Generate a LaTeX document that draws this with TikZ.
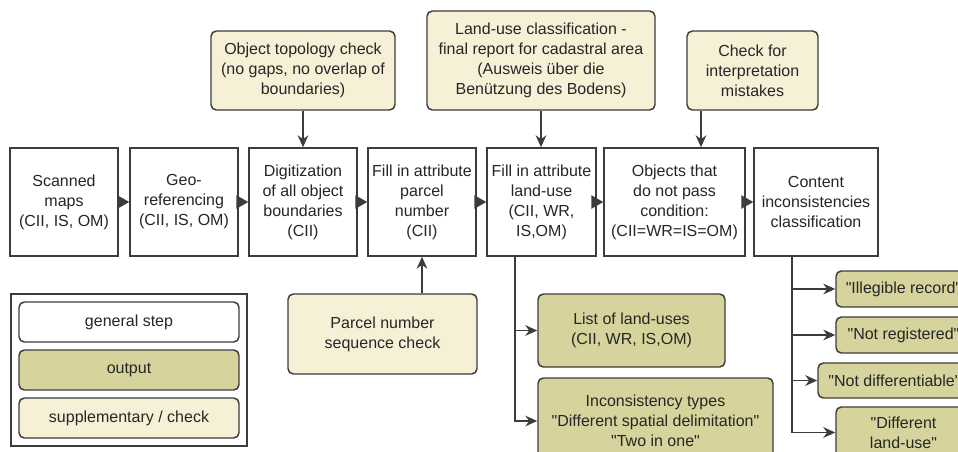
\documentclass[tikz,border=0pt]{standalone}
\usepackage{fontspec}
\setmainfont{Liberation Sans}[Ligatures = TeXOff]
\usetikzlibrary{arrows.meta}
\definecolor{suppcolor}{HTML}{F6F0D6}
\definecolor{outcolor}{HTML}{D6D49C}
\definecolor{linecolor}{HTML}{3C3C3C}

\begin{document}
\begin{tikzpicture}[x = 0.75pt, y = -0.75pt,
		every node/.style = {font = \fontsize{12}{15}\selectfont, text = black!85, align = center, inner sep = 0pt},
		boxsize/.style 2 args = {minimum width = #1*0.75pt, minimum height = #2*0.75pt},
		stepbox/.style = {draw = linecolor, line width = 1.1pt, fill = white},
		outbox/.style = {draw = linecolor, line width = 1.1pt, rounded corners = 4pt, fill = outcolor},
		suppbox/.style = {draw = linecolor, line width = 1.1pt, rounded corners = 4pt, fill = suppcolor},
		flow/.style = {draw = linecolor, line width = 1.1pt, -{Triangle[length = 9pt, width = 10pt]}},
		feed/.style = {draw = linecolor, line width = 1.1pt, -{Stealth[length = 9pt, width = 8pt]}}]
					\useasboundingbox (0,0) rectangle (958,451);
					\clip (0,0) rectangle (958,451);

					\begin{scope}
						\node [stepbox, boxsize = {108}{108}] (scan) at (64,202) {Scanned\\maps\\(CII, IS, OM)};
						\node [stepbox, boxsize = {108}{108}] (georef) at (184,202) {Geo-\\referencing\\(CII, IS, OM)};
						\node [stepbox, boxsize = {108}{108}] (digit) at (303,202) {Digitization\\of all object\\boundaries\\(CII)};
						\node [stepbox, boxsize = {108}{108}] (parcel) at (422,202) {Fill in attribute\\parcel\\number\\(CII)};
						\node [stepbox, boxsize = {109}{108}] (landuse) at (541.5,202) {Fill in attribute\\land-use\\(CII, WR,\\IS,OM)};
						\node [stepbox, boxsize = {141}{108}] (objects) at (674.5,202) {Objects that\\do not pass\\condition:\\(CII=WR=IS=OM)};
						\node [stepbox, boxsize = {124}{108}] (content) at (816,202) {Content\\inconsistencies\\classification};
					\end{scope}

					\begin{scope}
						\node [suppbox, boxsize = {184}{79}] (topo) at (303,70.5) {Object topology check\\(no gaps, no overlap of\\boundaries)};
						\node [suppbox, boxsize = {228}{99}] (report) at (541,60.5) {Land-use classification -\\final report for cadastral area\\(Ausweis über die\\Benützung des Bodens)};
						\node [suppbox, boxsize = {131}{79}] (mistakes) at (752.5,70.5) {Check for\\interpretation\\mistakes};
						\node [suppbox, boxsize = {189}{80}] (seqcheck) at (382.5,334) {Parcel number\\sequence check};
					\end{scope}

					\begin{scope}
						\node [draw = linecolor, line width = 1.1pt, boxsize = {236}{152}] (legend) at (129,370) {};
						\node [stepbox, rounded corners = 4pt, boxsize = {220}{40}] (lgstep) at (129,322) {general step};
						\node [outbox, boxsize = {220}{40}] (lgout) at (129,370) {output};
						\node [suppbox, boxsize = {220}{40}] (lgsupp) at (129,418) {supplementary / check};
					\end{scope}

					\begin{scope}
						\node [outbox, boxsize = {187}{73}] (uselist) at (631.5,330.5) {List of land-uses\\(CII, WR, IS,OM)};
						\node [outbox, boxsize = {235}{86}] (inctypes) at (655.5,421) {Inconsistency types\\"Different spatial delimitation"\\"Two in one"};
						\node [outbox, boxsize = {135}{36}] (illegible) at (903.5,289) {"Illegible record"};
						\node [outbox, boxsize = {135}{36}] (notreg) at (903.5,335) {"Not registered"};
						\node [outbox, boxsize = {153}{35}] (notdiff) at (894.5,380.5) {"Not differentiable"};
						\node [outbox, boxsize = {135}{51}] (difuse) at (903.5,432.5) {"Different\\land-use"};
					\end{scope}

					\coordinate (chk) at (701,0);
					\coordinate (lbranch) at (515,0);
					\coordinate (rbranch) at (792,0);

					\begin{scope}
						\draw [flow] (scan) -- (georef);
						\draw [flow] (georef) -- (digit);
						\draw [flow] (digit) -- (parcel);
						\draw [flow] (parcel) -- (landuse);
						\draw [flow] (landuse) -- (objects);
						\draw [flow] (objects) -- (content);
					\end{scope}

					\begin{scope}
						\draw [feed] (topo) -- (digit);
						\draw [feed] (report.south) -- (report.south |- landuse.north);
						\draw [feed] (mistakes.south -| chk) -- (objects.north -| chk);
						\draw [feed] (seqcheck.north -| parcel.south) -- (parcel.south);
					\end{scope}

					\begin{scope}
						\draw [feed] (landuse.south -| lbranch) |- (uselist.west);
						\draw [feed] (landuse.south -| lbranch) |- (inctypes.west);
						\draw [feed] (content.south -| rbranch) |- (illegible.west);
						\draw [feed] (content.south -| rbranch) |- (notreg.west);
						\draw [feed] (content.south -| rbranch) |- (notdiff.west);
						\draw [feed] (content.south -| rbranch) |- (difuse.west);
					\end{scope}
				\end{tikzpicture}
\end{document}
